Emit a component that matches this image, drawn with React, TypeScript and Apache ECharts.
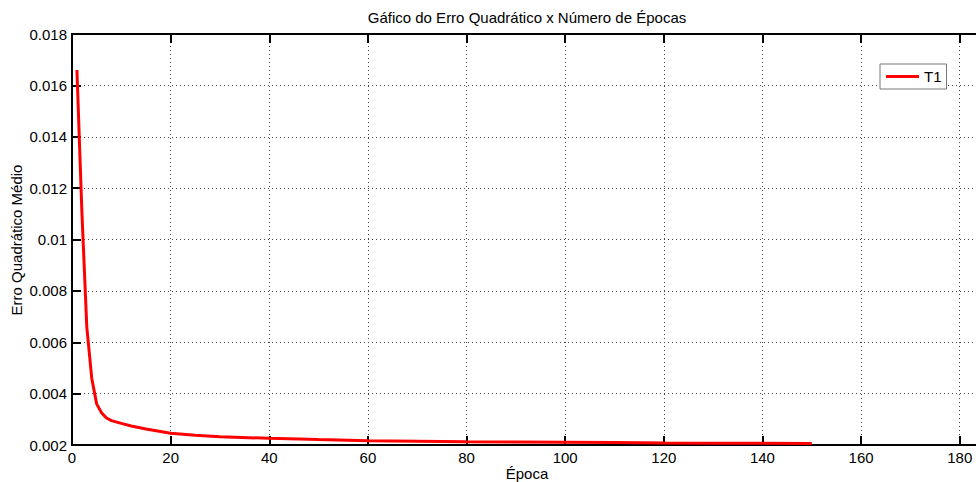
import React, { useEffect, useRef } from "react";
import * as echarts from "echarts";

const titleText = "Gáfico do Erro Quadrático x Número de Épocas";
const xName = "Época";
const yName = "Erro Quadrático Médio";
const seriesName = "T1";

const xTicks = [0, 20, 40, 60, 80, 100, 120, 140, 160, 180];
const epochs = [1, 2, 3, 4, 5, 6, 7, 8, 10, 12, 15, 20, 25, 30, 40, 50, 60, 70, 80, 90, 100, 110, 120, 130, 140, 150];
const mse = [
  0.0166, 0.0111, 0.0066, 0.0046, 0.0036, 0.00325, 0.00305, 0.00295, 0.00284, 0.00274, 0.00262, 0.00246,
  0.00238, 0.00232, 0.00226, 0.00221, 0.00217, 0.00215, 0.00213, 0.00212, 0.00211, 0.0021, 0.00208, 0.00207,
  0.00207, 0.00206,
];

const FONT = "'Liberation Sans', Arial, Helvetica, sans-serif";
const X_MAX = 183.3;

export default function App() {
  const ref = useRef<HTMLDivElement>(null);
  useEffect(() => {
    if (!ref.current) return;
    const chart = echarts.init(ref.current, null, { renderer: "svg" });
    const grid = "#444";
    const xLabel = (v: number) => (v % 20 === 0 ? String(v) : "");
    chart.setOption({
      animation: false,
      backgroundColor: "#fff",
      textStyle: { fontFamily: FONT, color: "#000" },
      grid: { left: 72, top: 34, bottom: 37, right: 0 },
      graphic: [
        {
          type: "text",
          x: 527,
          y: 17,
          style: { text: titleText, fontSize: 15, fontFamily: FONT, fill: "#000", align: "center", verticalAlign: "middle" },
        },
        {
          type: "text",
          x: 527,
          y: 473,
          style: { text: xName, fontSize: 15, fontFamily: FONT, fill: "#000", align: "center", verticalAlign: "middle" },
        },
        {
          type: "text",
          x: 16,
          y: 240,
          rotation: Math.PI / 2,
          style: { text: yName, fontSize: 15, fontFamily: FONT, fill: "#000", align: "center", verticalAlign: "middle" },
        },
      ],
      legend: {
        data: [seriesName],
        left: 880,
        top: 64,
        orient: "vertical",
        icon: "rect",
        itemWidth: 33,
        itemHeight: 3,
        padding: [5, 5, 5, 6],
        borderColor: "#777",
        borderWidth: 1,
        borderRadius: 0,
        backgroundColor: "#fff",
        textStyle: { fontSize: 15, fontFamily: FONT, color: "#000", lineHeight: 14 },
      },
      xAxis: [
        {
          type: "value",
          min: 0,
          max: X_MAX,
          interval: 20,
          position: "bottom",
          axisLine: { show: true, onZero: false, lineStyle: { color: "#000", width: 2 } },
          axisTick: { show: true, inside: true, length: 9, customValues: xTicks, lineStyle: { color: "#000", width: 2 } },
          axisLabel: {
            fontSize: 15,
            fontFamily: FONT,
            color: "#000",
            margin: 5,
            customValues: xTicks,
            formatter: xLabel,
          },
          splitLine: { show: true, lineStyle: { color: grid, width: 1, type: [1, 3] } },
        },
        {
          type: "value",
          min: 0,
          max: X_MAX,
          interval: 20,
          position: "top",
          axisLine: { show: true, onZero: false, lineStyle: { color: "#000", width: 2 } },
          axisTick: { show: true, inside: true, length: 9, customValues: xTicks, lineStyle: { color: "#000", width: 2 } },
          axisLabel: { show: false },
          splitLine: { show: false },
        },
      ],
      yAxis: {
        type: "value",
        min: 0.002,
        max: 0.018,
        interval: 0.002,
        axisLine: { show: true, onZero: false, lineStyle: { color: "#000", width: 2 } },
        axisTick: { show: true, inside: true, length: 9, lineStyle: { color: "#000", width: 2 } },
        axisLabel: {
          fontSize: 15,
          fontFamily: FONT,
          color: "#000",
          margin: 5,
          formatter: (v: number) => String(parseFloat(v.toFixed(3))),
        },
        splitLine: { show: true, lineStyle: { color: grid, width: 1, type: [1, 3] } },
      },
      series: [
        {
          name: seriesName,
          type: "line",
          xAxisIndex: 0,
          data: epochs.map((e, i) => [e, mse[i]]),
          showSymbol: false,
          symbol: "none",
          lineStyle: { color: "#ff0000", width: 3 },
          itemStyle: { color: "#ff0000" },
        },
      ],
    });
    return () => chart.dispose();
  }, []);
  return (
    <div
      ref={ref}
      style={{ position: "absolute", left: 0, top: 0, width: 976, height: 482, overflow: "hidden", background: "#fff" }}
    />
  );
}
